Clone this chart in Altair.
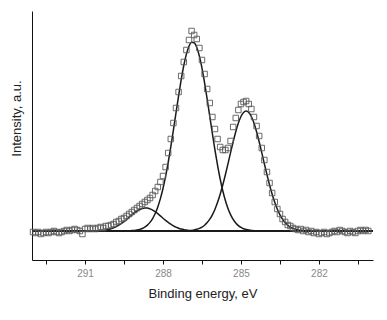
import altair as alt
import pandas as pd

# Measured spectrum (binding energy in eV, intensity in a.u., baseline = 0)
ENERGY = [
    293.0, 292.9, 292.8, 292.7, 292.6, 292.5, 292.4, 292.3, 292.2, 292.1,
    292.0, 291.9, 291.8, 291.7, 291.6, 291.5, 291.4, 291.3, 291.2, 291.1,
    291.0, 290.9, 290.8, 290.7, 290.6, 290.5, 290.4, 290.3, 290.2, 290.1,
    290.0, 289.9, 289.8, 289.7, 289.6, 289.5, 289.4, 289.3, 289.2, 289.1,
    289.0, 288.9, 288.8, 288.7, 288.6, 288.5, 288.4, 288.3, 288.2, 288.1,
    288.0, 287.9, 287.8, 287.7, 287.6, 287.5, 287.4, 287.3, 287.2, 287.1,
    287.0, 286.9, 286.8, 286.7, 286.6, 286.5, 286.4, 286.3, 286.2, 286.1,
    286.0, 285.9, 285.8, 285.7, 285.6, 285.5, 285.4, 285.3, 285.2, 285.1,
    285.0, 284.9, 284.8, 284.7, 284.6, 284.5, 284.4, 284.3, 284.2, 284.1,
    284.0, 283.9, 283.8, 283.7, 283.6, 283.5, 283.4, 283.3, 283.2, 283.1,
    283.0, 282.9, 282.8, 282.7, 282.6, 282.5, 282.4, 282.3, 282.2, 282.1,
    282.0, 281.9, 281.8, 281.7, 281.6, 281.5, 281.4, 281.3, 281.2, 281.1,
    281.0, 280.9, 280.8, 280.7, 280.6, 280.5, 280.4, 280.3, 280.2, 280.1,
]
INTENSITY = [
    -1, -2, -1, -3, -2, -1, -2, -1, 0, -1,
    -2, -1, 0, 1, 0, 1, 2, 1, 0, -3,
    2, 3, 2, 3, 2, 3, 4, 3, 5, 5,
    6, 7, 9, 10, 12, 13, 15, 17, 19, 21,
    23, 25, 27, 29, 31, 33, 36, 40, 44, 49,
    55, 64, 78, 92, 108, 123, 139, 155, 169, 181,
    191, 200, 196, 192, 183, 171, 157, 142, 128, 114,
    102, 92, 84, 81, 81, 83, 90, 104, 113, 121,
    127, 129, 130, 127, 122, 114, 105, 95, 83, 71,
    59, 48, 38, 29, 22, 17, 12, 9, 6, 5,
    3, 2, 1, 2, 0, 1, -1, 0, -2, -1,
    -3, -2, -1, -3, -2, -1, 0, -1, 1, 0,
    -1, -2, 0, -1, -2, 0, 1, 0, 1, 0,
]

# Fitted components
SMALL_E = [
    290.6, 290.5, 290.4, 290.3, 290.2, 290.1, 290.0, 289.9, 289.8, 289.7,
    289.6, 289.5, 289.4, 289.3, 289.2, 289.1, 289.0, 288.9, 288.8, 288.7,
    288.6, 288.5, 288.4, 288.3, 288.2, 288.1, 288.0, 287.9, 287.8, 287.7,
    287.6, 287.5, 287.4, 287.3, 287.2, 287.1, 287.0, 286.9, 286.8, 286.7,
    286.6,
]
SMALL_I = [
    0.2, 0.3, 0.5, 0.7, 1.1, 1.6, 2.3, 3.2, 4.4, 5.8,
    7.5, 9.4, 11.5, 13.7, 16.0, 18.1, 20.0, 21.5, 22.5, 23.0,
    22.9, 22.1, 20.9, 19.3, 17.3, 15.1, 12.8, 10.6, 8.6, 6.8,
    5.2, 3.9, 2.8, 2.0, 1.4, 0.9, 0.6, 0.4, 0.25, 0.15,
    0.1,
]
MAIN_E = [
    289.3, 289.2, 289.1, 289.0, 288.9, 288.8, 288.7, 288.6, 288.5, 288.4,
    288.3, 288.2, 288.1, 288.0, 287.9, 287.8, 287.7, 287.6, 287.5, 287.4,
    287.3, 287.2, 287.1, 287.0, 286.9, 286.8, 286.7, 286.6, 286.5, 286.4,
    286.3, 286.2, 286.1, 286.0, 285.9, 285.8, 285.7, 285.6, 285.5, 285.4,
    285.3, 285.2, 285.1, 285.0, 284.9, 284.8, 284.7, 284.6, 284.5, 284.4,
]
MAIN_I = [
    0.2, 0.4, 0.6, 1.0, 1.6, 2.5, 3.9, 5.9, 8.6, 12.4,
    17.5, 24.1, 32.4, 42.5, 54.6, 68.5, 84.1, 100.8, 118.1, 135.2,
    151.3, 165.5, 176.9, 184.8, 188.7, 188.2, 183.5, 174.9, 162.9, 148.2,
    131.9, 114.6, 97.4, 80.9, 65.6, 52.0, 40.3, 30.5, 22.6, 16.4,
    11.6, 8.0, 5.4, 3.6, 2.3, 1.5, 0.9, 0.6, 0.3, 0.2,
]
SECOND_E = [
    286.9, 286.8, 286.7, 286.6, 286.5, 286.4, 286.3, 286.2, 286.1, 286.0,
    285.9, 285.8, 285.7, 285.6, 285.5, 285.4, 285.3, 285.2, 285.1, 285.0,
    284.9, 284.8, 284.7, 284.6, 284.5, 284.4, 284.3, 284.2, 284.1, 284.0,
    283.9, 283.8, 283.7, 283.6, 283.5, 283.4, 283.3, 283.2, 283.1, 283.0,
    282.9, 282.8, 282.7, 282.6, 282.5,
]
SECOND_I = [
    0.6, 1.1, 1.7, 2.6, 3.9, 5.8, 8.4, 11.8, 16.2, 21.8,
    28.7, 36.8, 46.0, 56.3, 67.2, 78.4, 89.3, 99.3, 107.9, 114.5,
    118.6, 120.0, 118.6, 114.5, 107.9, 99.3, 89.3, 78.4, 67.2, 56.3,
    46.0, 36.8, 28.7, 21.8, 16.2, 11.8, 8.4, 5.8, 3.9, 2.6,
    1.7, 1.1, 0.7, 0.4, 0.2,
]

X_TICKS = [292.5, 291, 289.5, 288, 286.5, 285, 283.5, 282, 280.5]
X_DOMAIN = [279.92, 293.04]
Y_DOMAIN = [-29, 220]

pts = pd.DataFrame({"E": ENERGY, "I": INTENSITY})
comps = pd.concat([
    pd.DataFrame({"E": SMALL_E, "I": SMALL_I, "c": "small"}),
    pd.DataFrame({"E": MAIN_E, "I": MAIN_I, "c": "main"}),
    pd.DataFrame({"E": SECOND_E, "I": SECOND_I, "c": "second"}),
], ignore_index=True)

x_enc = alt.X(
    "E:Q",
    scale=alt.Scale(domain=X_DOMAIN, reverse=True, nice=False, zero=False),
    axis=alt.Axis(
        values=X_TICKS,
        labelExpr="datum.value % 3 == 0 ? format(datum.value, 'd') : ''",
        title="Binding energy, eV",
        grid=False,
        tickSize=4,
        labelPadding=4,
        labelFontSize=10,
        labelColor="#888888",
        labelFont="Liberation Sans",
        titleFont="Liberation Sans",
        titleFontSize=13,
        titleFontWeight="normal",
        titleColor="#222222",
        titleBaseline="middle",
        titleY=33,
        domainColor="#111111",
        tickColor="#111111",
    ),
)
y_enc = alt.Y(
    "I:Q",
    scale=alt.Scale(domain=Y_DOMAIN, nice=False, zero=False),
    axis=alt.Axis(
        title="Intensity, a.u.",
        labels=False,
        ticks=False,
        grid=False,
        titleFont="Liberation Sans",
        titleFontSize=13,
        titleFontWeight="normal",
        titleColor="#222222",
        titleX=-9,
        titleY=107,
        domainColor="#111111",
    ),
)

baseline = alt.Chart(pts).mark_rule(color="#1a1a1a", strokeWidth=1.2).encode(
    y=alt.datum(0)
)

lines = alt.Chart(comps).mark_line(
    color="#1a1a1a", strokeWidth=1.5, interpolate="monotone"
).encode(x=x_enc, y=y_enc, detail="c:N")

points = alt.Chart(pts).mark_point(
    shape="square", filled=False, size=30, color="#5a5a5a", strokeWidth=0.9, opacity=1
).encode(x=x_enc, y=y_enc)

chart = alt.layer(baseline, lines, points).properties(
    width=341,
    height=249,
    autosize=alt.AutoSizeParams(type="none"),
    padding={"left": 24, "top": 3, "right": 6, "bottom": 50},
    background="white",
).configure_view(stroke=None)

chart.save("out.html", embed_options={"renderer": "svg", "actions": False})
